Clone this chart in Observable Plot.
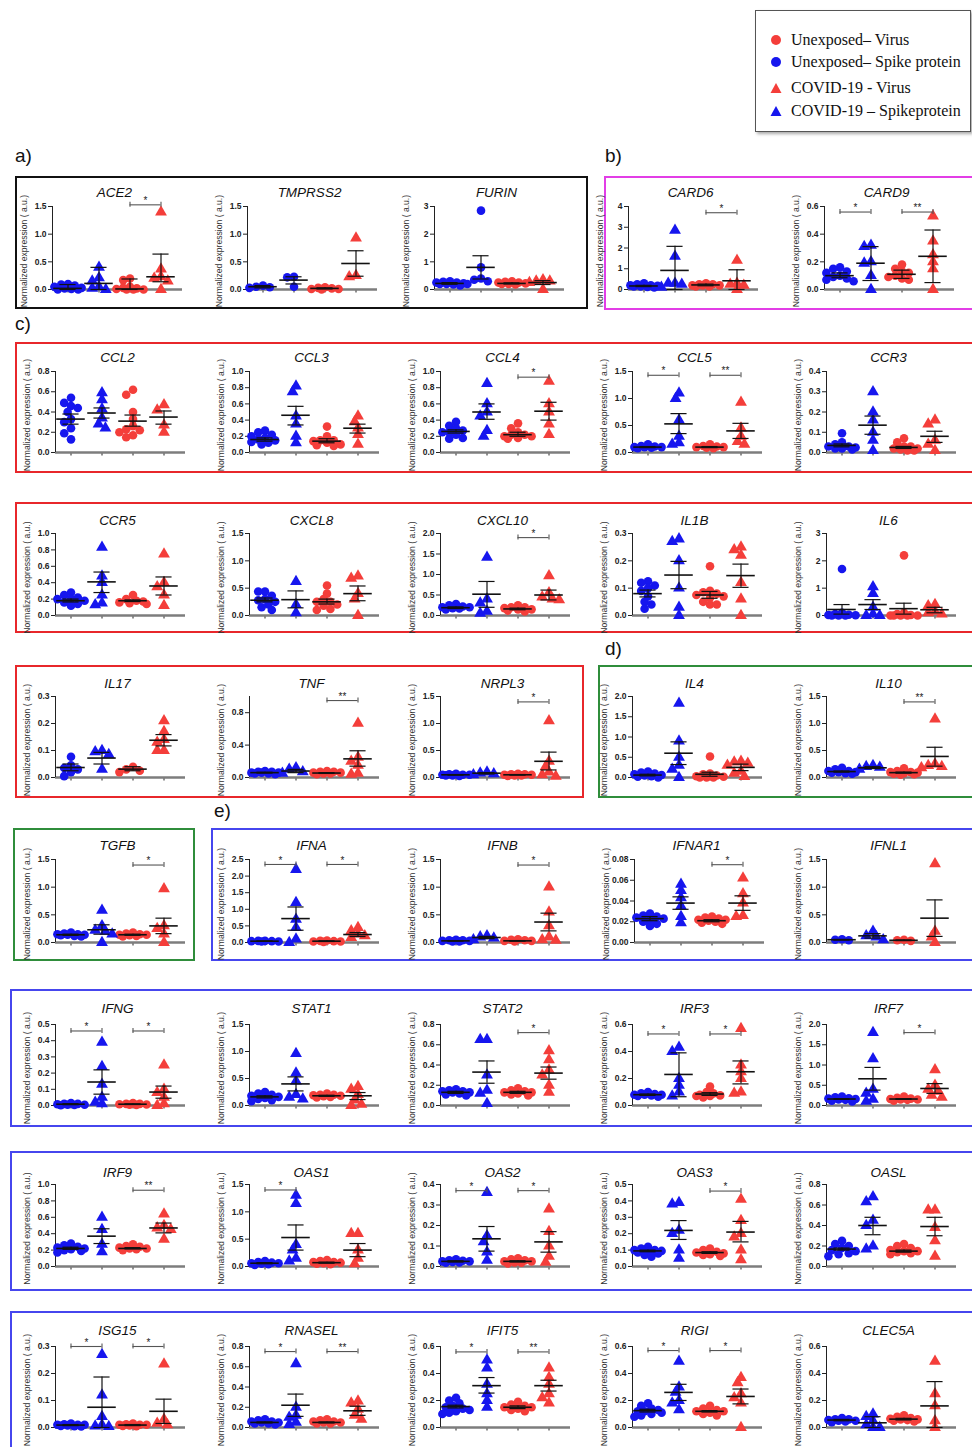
<!DOCTYPE html>
<html><head><meta charset="utf-8">
<script src="https://cdn.jsdelivr.net/npm/d3@7"></script>
<script src="https://cdn.jsdelivr.net/npm/@observablehq/plot@0.6"></script>
<style>
body{margin:0;background:#fff;}
#page{position:relative;width:972px;height:1447px;overflow:hidden;background:#fff;font-family:"Liberation Sans",Arial,sans-serif;}
.box{position:absolute;box-sizing:border-box;border:2px solid;}
.lab{position:absolute;font-size:19px;font-family:"Liberation Sans",Arial,sans-serif;color:#111;}
.panel{position:absolute;}
.panel svg{overflow:visible;}
#legend{position:absolute;left:755px;top:10px;width:216px;height:122px;box-sizing:border-box;border:1.5px solid #555;box-shadow:2px 2px 3px #aaa;background:#fff;font-family:"Liberation Serif","Times New Roman",serif;font-size:16px;color:#111;}
#legend .it{position:absolute;left:14px;display:flex;align-items:center;white-space:nowrap;}
#legend svg{margin-right:9px;}
</style></head><body><div id="page"></div>
<script>
// ---------------- data ----------------
const groupNames = ["Unexposed– Spike protein", "COVID-19 – Spikeprotein", "Unexposed– Virus", "COVID-19 - Virus"];
const groupColors = ["#1616ee", "#1616ee", "#f43e3a", "#f43e3a"];
const groupShapes = ["circle", "triangle", "circle", "triangle"];
const yLabel = "Normalized expression ( a.u.)";

const ACE2 = {yMax:1.5, yStep:0.5,
  v:[[0.1,0.09,0.07,0.05,0.03,0.02,0.01,0.0,0.0],[0.4,0.21,0.15,0.05,0.02,0.0],[0.2,0.17,0.05,0.03,0.02,0.01,0,0,0],[1.4,0.37,0.23,0.2,0.15,0.0]],
  mid:[0.02,0.11,0.01,0.23], lo:[0,0,0,0.14], hi:[0.09,0.40,0.19,0.64], sig:[[3,4,"*",1.53]]};
const TMPRSS2 = {yMax:1.5, yStep:0.5, shapes:["circle","circle","circle","triangle"],
  v:[[0.07,0.05,0.04,0.03],[0.23,0.22,0.05],[0.04,0.03,0.02,0.01,0.01,0.0],[0.93,0.25,0.23]],
  mid:[0.05,0.17,0.02,0.47], lo:[0.03,0.10,0.01,0.24], hi:[0.07,0.23,0.03,0.70], sig:[]};
const FURIN = {yMax:3, yStep:1, shapes:["circle","circle","circle","triangle"],
  v:[[0.3,0.28,0.25,0.25,0.22,0.2,0.2,0.18,0.15],[2.85,0.8,0.4,0.35,0.3,0.2],[0.3,0.28,0.25,0.25,0.22,0.2,0.2,0.18],[0.35,0.3,0.3,0.25,0.0]],
  mid:[0.22,0.8,0.22,0.25], lo:[0.19,0.38,0.2,0.18], hi:[0.25,1.22,0.24,0.32], sig:[]};
const CARD6 = {yMax:4, yStep:1,
  v:[[0.3,0.25,0.2,0.2,0.18,0.15,0.15,0.12,0.1],[2.85,1.6,0.3,0.3,0.25,0.1],[0.3,0.25,0.25,0.2,0.2,0.2,0.15,0.15],[1.4,0.3,0.25,0.2,0.0]],
  mid:[0.17,0.92,0.22,0.42], lo:[0.14,0,0.18,0], hi:[0.2,2.08,0.26,0.95], sig:[[3,4,"*",3.7]]};
const CARD9 = {yMax:0.6, yStep:0.2,
  v:[[0.16,0.15,0.13,0.12,0.1,0.09,0.08,0.07,0.06],[0.32,0.31,0.2,0.19,0.1,0.0],[0.18,0.15,0.13,0.12,0.1,0.09,0.08,0.07],[0.53,0.35,0.25,0.2,0.15,0.0]],
  mid:[0.1,0.19,0.11,0.24], lo:[0.085,0.065,0.08,0.05], hi:[0.12,0.31,0.14,0.43], sig:[[1,2,"*",0.56],[3,4,"**",0.56]]};

const CCL2 = {yMax:0.8, yStep:0.2,
  v:[[0.54,0.49,0.46,0.44,0.40,0.33,0.3,0.24,0.19,0.13],[0.59,0.52,0.43,0.34,0.28,0.24],[0.62,0.57,0.4,0.33,0.26,0.23,0.22,0.2,0.17,0.15],[0.47,0.42,0.27,0.2]],
  mid:[0.33,0.39,0.31,0.35], lo:[0.28,0.34,0.26,0.28], hi:[0.38,0.44,0.37,0.41], sig:[]};
const CCL3 = {yMax:1.0, yStep:0.2,
  v:[[0.27,0.25,0.22,0.2,0.18,0.16,0.15,0.13,0.12,0.1],[0.82,0.75,0.45,0.35,0.2,0.12],[0.32,0.2,0.15,0.15,0.14,0.12,0.1,0.09,0.08],[0.45,0.38,0.3,0.22,0.1]],
  mid:[0.16,0.46,0.14,0.3], lo:[0.14,0.34,0.12,0.24], hi:[0.18,0.57,0.17,0.35], sig:[]};
const CCL4 = {yMax:1.0, yStep:0.2,
  v:[[0.38,0.33,0.3,0.27,0.25,0.25,0.22,0.18,0.17],[0.85,0.6,0.5,0.45,0.27,0.2],[0.36,0.3,0.25,0.22,0.22,0.2,0.2,0.18,0.17],[0.88,0.6,0.5,0.35,0.22]],
  mid:[0.26,0.5,0.22,0.51], lo:[0.24,0.41,0.2,0.4], hi:[0.28,0.6,0.25,0.62], sig:[[3,4,"*",0.93]]};
const CCL5 = {yMax:1.5, yStep:0.5,
  v:[[0.15,0.12,0.11,0.1,0.1,0.1,0.09,0.08],[1.1,1.0,0.6,0.3,0.18,0.15],[0.15,0.12,0.11,0.1,0.1,0.09,0.08],[0.93,0.45,0.3,0.2,0.15]],
  mid:[0.1,0.53,0.1,0.4], lo:[0.09,0.35,0.09,0.26], hi:[0.11,0.72,0.11,0.54], sig:[[1,2,"*",1.43],[3,4,"**",1.43]]};
const CCR3 = {yMax:0.4, yStep:0.1,
  v:[[0.095,0.05,0.04,0.03,0.03,0.025,0.02,0.02,0.015],[0.3,0.2,0.16,0.1,0.06,0.01],[0.07,0.05,0.03,0.03,0.02,0.02,0.015,0.01,0.01],[0.16,0.14,0.06,0.04,0.01]],
  mid:[0.035,0.135,0.025,0.08], lo:[0.028,0.09,0.02,0.05], hi:[0.042,0.18,0.03,0.105], sig:[]};

const CCR5 = {yMax:1.0, yStep:0.2,
  v:[[0.28,0.25,0.22,0.2,0.2,0.18,0.16,0.14,0.12],[0.83,0.48,0.4,0.25,0.15,0.13],[0.25,0.2,0.18,0.17,0.16,0.15,0.14],[0.75,0.4,0.35,0.25,0.12]],
  mid:[0.18,0.41,0.18,0.36], lo:[0.165,0.28,0.17,0.25], hi:[0.2,0.53,0.19,0.47], sig:[]};
const CXCL8 = {yMax:1.5, yStep:0.5,
  v:[[0.44,0.44,0.36,0.3,0.28,0.25,0.2,0.15,0.1],[0.62,0.2,0.05],[0.55,0.4,0.3,0.25,0.25,0.2,0.18,0.12,0.1],[0.72,0.68,0.4,0.3,0.0]],
  mid:[0.28,0.29,0.25,0.4], lo:[0.25,0.14,0.21,0.27], hi:[0.32,0.45,0.3,0.54], sig:[]};
const CXCL10 = {yMax:2.0, yStep:0.5,
  v:[[0.28,0.25,0.22,0.2,0.2,0.18,0.17,0.15],[1.42,0.4,0.3,0.1,0.05],[0.25,0.2,0.2,0.18,0.15,0.15,0.12,0.1],[0.97,0.55,0.45,0.4,0.38]],
  mid:[0.19,0.52,0.16,0.5], lo:[0.17,0.2,0.14,0.38], hi:[0.21,0.83,0.18,0.62], sig:[[3,4,"*",1.9]]};
const IL1B = {yMax:0.3, yStep:0.1,
  v:[[0.125,0.12,0.11,0.1,0.09,0.07,0.05,0.04,0.025],[0.28,0.27,0.2,0.1,0.03,0.0],[0.18,0.09,0.085,0.08,0.075,0.07,0.065,0.05,0.04,0.04],[0.25,0.24,0.22,0.12,0.06,0.0]],
  mid:[0.08,0.148,0.075,0.146], lo:[0.068,0.098,0.063,0.103], hi:[0.093,0.198,0.088,0.188], sig:[]};
const IL6 = {yMax:3, yStep:1,
  v:[[1.7,0.1,0.05,0.03,0.02,0.01,0.0,0.0,0.0],[1.05,0.8,0.3,0.05,0.0,0.0],[2.2,0.1,0.05,0.02,0.0,0.0,0.0,0.0,0.0],[0.4,0.35,0.15,0.1,0.05]],
  mid:[0.22,0.4,0.25,0.21], lo:[0.05,0.22,0.05,0.1], hi:[0.4,0.58,0.45,0.3], sig:[]};

const IL17 = {yMax:0.3, yStep:0.1,
  v:[[0.077,0.045,0.035,0.03,0.02,0.005],[0.1,0.095,0.085,0.03],[0.04,0.03,0.025,0.02],[0.21,0.17,0.14,0.13,0.1,0.1]],
  mid:[0.037,0.072,0.031,0.138], lo:[0.025,0.05,0.025,0.117], hi:[0.05,0.093,0.04,0.159], sig:[]};
const TNF = {yMax:1.0, yStep:0.4,
  v:[[0.08,0.07,0.07,0.06,0.06,0.06,0.05,0.05,0.04],[0.12,0.1,0.07,0.05],[0.08,0.07,0.07,0.06,0.06,0.05,0.05,0.04],[0.67,0.25,0.2,0.15,0.05,0.04]],
  mid:[0.06,0.08,0.055,0.23], lo:[0.055,0.06,0.05,0.14], hi:[0.065,0.1,0.06,0.33], sig:[[3,4,"**",0.95]]};
const NRPL3 = {yMax:1.5, yStep:0.5,
  v:[[0.07,0.06,0.05,0.05,0.05,0.04,0.04,0.03],[0.1,0.08,0.07,0.05],[0.07,0.06,0.06,0.05,0.05,0.04,0.04,0.03],[1.05,0.3,0.2,0.1,0.05,0.02]],
  mid:[0.05,0.08,0.05,0.3], lo:[0.045,0.065,0.045,0.14], hi:[0.055,0.09,0.055,0.47], sig:[[3,4,"*",1.4]]};
const IL4 = {yMax:2.0, yStep:0.5,
  v:[[0.15,0.12,0.1,0.08,0.06,0.05,0.03,0.02,0.0],[1.83,0.9,0.5,0.3,0.2,0.0],[0.52,0.1,0.08,0.05,0.03,0.02,0.0,0.0,0.0],[0.4,0.38,0.35,0.3,0.15,0.1,0.02]],
  mid:[0.06,0.6,0.08,0.25], lo:[0.04,0.32,0.03,0.17], hi:[0.08,0.88,0.13,0.33], sig:[]};
const IL10 = {yMax:1.5, yStep:0.5,
  v:[[0.18,0.15,0.12,0.12,0.1,0.1,0.09,0.08,0.07],[0.22,0.2,0.19,0.15],[0.17,0.12,0.1,0.1,0.09,0.08,0.07,0.06,0.05],[1.08,0.25,0.22,0.2,0.18]],
  mid:[0.11,0.18,0.09,0.39], lo:[0.1,0.165,0.08,0.21], hi:[0.12,0.2,0.1,0.56], sig:[[3,4,"**",1.4]]};

const TGFB = {yMax:1.5, yStep:0.5,
  v:[[0.18,0.16,0.15,0.15,0.14,0.14,0.13,0.12,0.11],[0.58,0.3,0.22,0.2,0.15,0.0],[0.18,0.16,0.15,0.14,0.14,0.13,0.12,0.11],[0.97,0.3,0.25,0.15,0.0]],
  mid:[0.14,0.23,0.14,0.3], lo:[0.13,0.15,0.13,0.16], hi:[0.15,0.32,0.15,0.44], sig:[[3,4,"*",1.4]]};
const IFNA = {yMax:2.5, yStep:0.5,
  v:[[0.05,0.05,0.04,0.04,0.03,0.03],[2.2,1.2,0.7,0.45,0.1,0.0],[0.06,0.05,0.04,0.03,0.03,0.02],[0.45,0.35,0.25,0.2,0.15]],
  mid:[0.04,0.72,0.04,0.24], lo:[0.035,0.37,0.03,0.18], hi:[0.045,1.07,0.05,0.3], sig:[[1,2,"*",2.35],[3,4,"*",2.35]]};
const IFNB = {yMax:1.5, yStep:0.5,
  v:[[0.05,0.04,0.04,0.03,0.03,0.02,0.02],[0.12,0.1,0.08,0.05],[0.06,0.05,0.04,0.03,0.03,0.02],[1.0,0.55,0.3,0.1,0.05,0.04]],
  mid:[0.03,0.09,0.03,0.37], lo:[0.025,0.07,0.025,0.21], hi:[0.035,0.11,0.035,0.53], sig:[[3,4,"*",1.4]]};
const IFNAR1 = {yMax:0.08, yStep:0.02,
  v:[[0.028,0.026,0.025,0.024,0.023,0.022,0.02,0.018,0.016],[0.056,0.05,0.043,0.035,0.025,0.019],[0.025,0.024,0.023,0.022,0.022,0.021,0.02,0.019,0.018],[0.062,0.047,0.038,0.026,0.025]],
  mid:[0.023,0.038,0.021,0.038], lo:[0.021,0.032,0.02,0.031], hi:[0.025,0.044,0.022,0.045], sig:[[3,4,"*",0.075]]};
const IFNL1 = {yMax:1.5, yStep:0.5,
  v:[[0.06,0.05,0.04],[0.2,0.12,0.1,0.05],[0.05,0.04,0.03],[1.42,0.2,0.1,0.0]],
  mid:[0.05,0.12,0.04,0.44], lo:[0.045,0.08,0.035,0.11], hi:[0.055,0.16,0.045,0.77], sig:[]};

const IFNG = {yMax:0.5, yStep:0.1,
  v:[[0.015,0.01,0.01,0.008,0.005,0.005,0.003,0.002],[0.39,0.24,0.13,0.05,0.02,0.01],[0.015,0.01,0.01,0.008,0.006,0.005,0.004],[0.25,0.1,0.08,0.05,0.01,0.0]],
  mid:[0.008,0.145,0.008,0.083], lo:[0.005,0.07,0.006,0.045], hi:[0.011,0.22,0.01,0.12], sig:[[1,2,"*",0.46],[3,4,"*",0.46]]};
const STAT1 = {yMax:1.5, yStep:0.5,
  v:[[0.25,0.22,0.2,0.18,0.16,0.14,0.12,0.1,0.08],[0.96,0.6,0.45,0.2,0.15,0.12],[0.22,0.2,0.2,0.19,0.18,0.17,0.16,0.15],[0.35,0.3,0.2,0.1,0.02,0.0]],
  mid:[0.16,0.4,0.18,0.18], lo:[0.14,0.27,0.17,0.11], hi:[0.18,0.53,0.19,0.24], sig:[]};
const STAT2 = {yMax:0.8, yStep:0.2,
  v:[[0.16,0.15,0.14,0.14,0.13,0.13,0.12,0.11,0.1],[0.65,0.65,0.3,0.15,0.12,0.02],[0.17,0.15,0.14,0.13,0.13,0.12,0.11,0.1],[0.54,0.45,0.35,0.3,0.2,0.13]],
  mid:[0.13,0.33,0.13,0.32], lo:[0.12,0.22,0.12,0.26], hi:[0.14,0.44,0.14,0.38], sig:[[3,4,"*",0.72]]};
const IRF3 = {yMax:0.6, yStep:0.2,
  v:[[0.1,0.09,0.085,0.08,0.08,0.08,0.075,0.07,0.065],[0.43,0.4,0.2,0.15,0.1,0.07],[0.14,0.1,0.09,0.08,0.075,0.07,0.07,0.06],[0.57,0.3,0.25,0.2,0.1,0.09]],
  mid:[0.08,0.23,0.085,0.25], lo:[0.075,0.065,0.075,0.16], hi:[0.085,0.39,0.095,0.33], sig:[[1,2,"*",0.53],[3,4,"*",0.53]]};
const IRF7 = {yMax:2.0, yStep:0.5,
  v:[[0.22,0.2,0.18,0.17,0.16,0.15,0.14,0.12,0.1],[1.8,1.15,0.4,0.3,0.15,0.1],[0.22,0.19,0.17,0.16,0.15,0.15,0.14,0.12],[0.88,0.5,0.4,0.35,0.25,0.2]],
  mid:[0.16,0.66,0.16,0.42], lo:[0.15,0.38,0.15,0.3], hi:[0.17,0.94,0.17,0.54], sig:[[3,4,"*",1.8]]};

const IRF9 = {yMax:1.0, yStep:0.2,
  v:[[0.28,0.26,0.24,0.23,0.22,0.21,0.2,0.19,0.17],[0.6,0.45,0.27,0.18],[0.27,0.25,0.24,0.23,0.22,0.22,0.21,0.2],[0.64,0.5,0.47,0.45,0.33]],
  mid:[0.22,0.37,0.22,0.47], lo:[0.21,0.28,0.215,0.41], hi:[0.235,0.46,0.23,0.53], sig:[[3,4,"**",0.93]]};
const OAS1 = {yMax:1.5, yStep:0.5,
  v:[[0.1,0.08,0.07,0.06,0.06,0.05,0.04,0.03],[1.3,1.15,0.4,0.3,0.15,0.1],[0.12,0.1,0.08,0.08,0.07,0.06,0.05,0.04],[0.6,0.6,0.3,0.15,0.05]],
  mid:[0.06,0.53,0.07,0.3], lo:[0.05,0.3,0.06,0.18], hi:[0.07,0.76,0.08,0.42], sig:[[1,2,"*",1.4]]};
const OAS2 = {yMax:0.4, yStep:0.1,
  v:[[0.035,0.03,0.028,0.025,0.025,0.022,0.02,0.018],[0.36,0.15,0.12,0.07,0.03],[0.04,0.035,0.03,0.025,0.025,0.02,0.018,0.015],[0.28,0.17,0.1,0.05,0.02]],
  mid:[0.025,0.135,0.025,0.12], lo:[0.022,0.075,0.022,0.07], hi:[0.028,0.195,0.028,0.17], sig:[[1,2,"*",0.37],[3,4,"*",0.37]]};
const OAS3 = {yMax:0.5, yStep:0.1,
  v:[[0.12,0.11,0.1,0.1,0.095,0.09,0.085,0.08,0.07,0.06],[0.39,0.38,0.22,0.2,0.1,0.05],[0.11,0.1,0.09,0.085,0.08,0.075,0.07,0.065],[0.41,0.28,0.2,0.18,0.1,0.04]],
  mid:[0.095,0.22,0.085,0.21], lo:[0.09,0.165,0.08,0.15], hi:[0.1,0.28,0.09,0.275], sig:[[3,4,"*",0.46]]};
const OASL = {yMax:0.8, yStep:0.2,
  v:[[0.25,0.22,0.2,0.18,0.16,0.15,0.13,0.12,0.1],[0.68,0.63,0.45,0.4,0.2,0.17],[0.22,0.2,0.18,0.16,0.15,0.15,0.14,0.13,0.12],[0.55,0.55,0.38,0.25,0.1]],
  mid:[0.17,0.4,0.15,0.39], lo:[0.16,0.31,0.14,0.3], hi:[0.18,0.48,0.16,0.48], sig:[]};

const ISG15 = {yMax:0.3, yStep:0.1,
  v:[[0.015,0.012,0.01,0.01,0.01,0.008,0.006,0.005,0.004],[0.27,0.12,0.04,0.01,0.005,0.003],[0.015,0.012,0.01,0.01,0.01,0.008,0.006,0.005],[0.235,0.03,0.015,0.01]],
  mid:[0.009,0.075,0.009,0.06], lo:[0.007,0,0.007,0.015], hi:[0.011,0.187,0.011,0.105], sig:[[1,2,"*",0.3],[3,4,"*",0.3]]};
const RNASEL = {yMax:0.8, yStep:0.2,
  v:[[0.08,0.07,0.06,0.06,0.05,0.05,0.04,0.04,0.03],[0.63,0.2,0.12,0.1,0.05,0.03],[0.08,0.07,0.06,0.06,0.05,0.05,0.04,0.04],[0.26,0.24,0.18,0.12,0.08]],
  mid:[0.05,0.22,0.05,0.165], lo:[0.045,0.11,0.045,0.12], hi:[0.055,0.33,0.055,0.21], sig:[[1,2,"*",0.75],[3,4,"**",0.75]]};
const IFIT5 = {yMax:0.6, yStep:0.2,
  v:[[0.22,0.2,0.18,0.16,0.15,0.14,0.13,0.12,0.11,0.1],[0.5,0.44,0.32,0.25,0.2,0.15],[0.19,0.17,0.16,0.15,0.15,0.14,0.13,0.12],[0.44,0.37,0.32,0.25,0.22,0.18]],
  mid:[0.155,0.31,0.15,0.31], lo:[0.145,0.255,0.14,0.27], hi:[0.165,0.37,0.16,0.35], sig:[[1,2,"*",0.56],[3,4,"**",0.56]]};
const RIGI = {yMax:0.6, yStep:0.2,
  v:[[0.18,0.16,0.14,0.13,0.12,0.12,0.11,0.1,0.09,0.08],[0.49,0.3,0.26,0.2,0.18,0.13],[0.16,0.14,0.13,0.12,0.12,0.11,0.1,0.09],[0.37,0.33,0.25,0.22,0.18,0.0]],
  mid:[0.125,0.26,0.12,0.23], lo:[0.115,0.2,0.115,0.175], hi:[0.135,0.32,0.125,0.285], sig:[[1,2,"*",0.57],[3,4,"*",0.57]]};
const CLEC5A = {yMax:0.6, yStep:0.2,
  v:[[0.07,0.06,0.06,0.055,0.05,0.05,0.045,0.04],[0.1,0.08,0.05,0.02,0.0,0.0],[0.09,0.08,0.07,0.065,0.06,0.06,0.055,0.05,0.045],[0.49,0.25,0.16,0.05,0.0]],
  mid:[0.055,0.035,0.062,0.16], lo:[0.05,0,0.056,0], hi:[0.06,0.08,0.068,0.34], sig:[]};

// ---------------- layout ----------------
const rows = {
  a:  {titleY:192, yTop:206, y0:289},
  c1: {titleY:357, yTop:371, y0:452},
  c2: {titleY:520, yTop:533, y0:615},
  c3: {titleY:683, yTop:696, y0:777},
  e:  {titleY:845, yTop:859, y0:942},
  r5: {titleY:1008, yTop:1024, y0:1105},
  r6: {titleY:1172, yTop:1184, y0:1266},
  r7: {titleY:1330, yTop:1346, y0:1427}
};
const panels = [
  ["ACE2", ACE2, 52, "a"], ["TMPRSS2", TMPRSS2, 247, "a"], ["FURIN", FURIN, 434, "a"], ["CARD6", CARD6, 628, "a"], ["CARD9", CARD9, 824, "a"],
  ["CCL2", CCL2, 55, "c1"], ["CCL3", CCL3, 249, "c1"], ["CCL4", CCL4, 440, "c1"], ["CCL5", CCL5, 632, "c1"], ["CCR3", CCR3, 826, "c1"],
  ["CCR5", CCR5, 55, "c2"], ["CXCL8", CXCL8, 249, "c2"], ["CXCL10", CXCL10, 440, "c2"], ["IL1B", IL1B, 632, "c2"], ["IL6", IL6, 826, "c2"],
  ["IL17", IL17, 55, "c3"], ["TNF", TNF, 249, "c3"], ["NRPL3", NRPL3, 440, "c3"], ["IL4", IL4, 632, "c3"], ["IL10", IL10, 826, "c3"],
  ["TGFB", TGFB, 55, "e"], ["IFNA", IFNA, 249, "e"], ["IFNB", IFNB, 440, "e"], ["IFNAR1", IFNAR1, 634, "e"], ["IFNL1", IFNL1, 826, "e"],
  ["IFNG", IFNG, 55, "r5"], ["STAT1", STAT1, 249, "r5"], ["STAT2", STAT2, 440, "r5"], ["IRF3", IRF3, 632, "r5"], ["IRF7", IRF7, 826, "r5"],
  ["IRF9", IRF9, 55, "r6"], ["OAS1", OAS1, 249, "r6"], ["OAS2", OAS2, 440, "r6"], ["OAS3", OAS3, 632, "r6"], ["OASL", OASL, 826, "r6"],
  ["ISG15", ISG15, 55, "r7"], ["RNASEL", RNASEL, 249, "r7"], ["IFIT5", IFIT5, 440, "r7"], ["RIGI", RIGI, 632, "r7"], ["CLEC5A", CLEC5A, 826, "r7"]
];
const boxes = [
  [15,176,573,133,"#111"], [604,176,380,134,"#e23ee6"],
  [15,342,970,131,"#e8272b"], [15,502,970,131,"#e8272b"], [15,665,569,133,"#e8272b"],
  [598,665,390,133,"#2f8d3b"], [13,828,182,133,"#2f8d3b"], [211,828,775,133,"#4646ee"],
  [10,989,980,138,"#4646ee"], [10,1151,980,140,"#4646ee"], [10,1311,980,150,"#4646ee"]
];
const sectionLabels = [["a)",15,145],["b)",605,145],["c)",15,313],["d)",605,638],["e)",214,800]];

// ---------------- drawing ----------------
const page = document.getElementById("page");
for (const [x,y,w,h,c] of boxes) {
  const d = document.createElement("div"); d.className = "box";
  Object.assign(d.style, {left:x+"px", top:y+"px", width:w+"px", height:h+"px", borderColor:c});
  page.appendChild(d);
}
for (const [t,x,y] of sectionLabels) {
  const d = document.createElement("div"); d.className = "lab"; d.textContent = t;
  Object.assign(d.style, {left:x+"px", top:y+"px"}); page.appendChild(d);
}

const ML = 45, MR = 10, W = 185, PXU = 31;
const xMax = 0.5 + (W - ML - MR) / PXU;

function swarm(vals, pxPerVal) {
  const placed = [], out = new Array(vals.length);
  const cands = [0,-1,1,-2,2,-3,3,-4,4], step = 3.4, dmin = 6.2;
  vals.forEach((v, i) => {
    const py = v * pxPerVal;
    let best = 0, bestScore = -1;
    for (const c of cands) {
      const px = c * step;
      let md = Infinity;
      for (const p of placed) md = Math.min(md, Math.hypot(px - p[0], py - p[1]));
      if (md >= dmin) { best = px; break; }
      if (md > bestScore) { bestScore = md; best = px; }
    }
    placed.push([best, py]); out[i] = best;
  });
  return out;
}

for (const [name, g, ax, rk] of panels) {
  const row = rows[rk];
  const top = row.titleY - 16;
  const mt = row.yTop - top, ih = row.y0 - row.yTop, mb = 12;
  const pxPerVal = ih / g.yMax;
  const shapes = g.shapes || groupShapes;
  const pts = [];
  g.v.forEach((vals, k) => {
    const offs = swarm(vals, pxPerVal);
    vals.forEach((v, i) => pts.push({g: k + 1, x: k + 1 + offs[i] / PXU, v, shape: shapes[k], color: groupColors[k]}));
  });
  const stats = g.mid.map((m, k) => ({g: k + 1, mid: m, lo: Math.max(0, g.lo[k]), hi: g.hi[k]}));
  const caps = stats.flatMap(s => [{g: s.g, y: s.lo}, {g: s.g, y: s.hi}]);
  const nT = Math.floor(g.yMax / g.yStep + 1e-9) + 1;
  const ticks = Array.from({length: nT}, (_, i) => +(i * g.yStep).toFixed(4));
  const dec = g.yStep >= 1 ? 0 : (g.yStep >= 0.1 ? 1 : 2);
  const fmt = d3.format(`.${dec}f`);
  const sig = g.sig.map(([a, b, t, lev]) => ({a, b, t, lev}));

  const chart = Plot.plot({
    width: W, height: mt + ih + mb,
    marginLeft: ML, marginRight: MR, marginTop: mt, marginBottom: mb,
    style: {fontSize: "8.5px", fontFamily: "'Liberation Sans', Arial, sans-serif", fontWeight: "bold", color: "#222", background: "transparent", overflow: "visible"},
    x: {domain: [0.5, xMax], ticks: [1, 2, 3, 4], tickFormat: () => "", tickSize: 3.5, label: null},
    y: {domain: [0, g.yMax], ticks, tickFormat: fmt, tickSize: 4, tickPadding: 2, label: null},
    marks: [
      Plot.ruleY([0], {stroke: "#7d7d7d", strokeWidth: 2.4}),
      Plot.ruleX([0.5], {y1: () => 0, y2: () => g.yMax, stroke: "#222", strokeWidth: 1}),
      Plot.dot(pts.filter(d => d.shape === "circle"), {x: "x", y: "v", fill: "color", r: 4.3, symbol: "circle"}),
      Plot.dot(pts.filter(d => d.shape === "triangle"), {x: "x", y: "v", fill: "color", r: 4.4, symbol: "triangle"}),
      Plot.ruleX(stats, {x: "g", y1: "lo", y2: "hi", stroke: "#111", strokeWidth: 1.2}),
      Plot.ruleY(caps, {x1: d => d.g - 0.26, x2: d => d.g + 0.26, y: "y", stroke: "#111", strokeWidth: 1.2}),
      Plot.ruleY(stats, {x1: d => d.g - 0.46, x2: d => d.g + 0.46, y: "mid", stroke: "#111", strokeWidth: 1.6}),
      Plot.ruleY(sig, {x1: "a", x2: "b", y: "lev", stroke: "#555", strokeWidth: 1.1}),
      Plot.ruleX(sig.flatMap(s => [{x: s.a, lev: s.lev}, {x: s.b, lev: s.lev}]), {x: "x", y1: "lev", y2: "lev", insetTop: -2.5, insetBottom: -2.5, stroke: "#555", strokeWidth: 1.1}),
      Plot.text(sig, {x: d => (d.a + d.b) / 2, y: "lev", text: "t", dy: -4, fontSize: 10, fontWeight: "normal", fill: "#222"}),
      Plot.text([name], {x: () => 2.5, y: () => g.yMax, dy: row.titleY - row.yTop, text: d => d, fontSize: 13.5, fontStyle: "italic", fontWeight: "normal", fill: "#111"}),
      Plot.text([yLabel], {frameAnchor: "left", textAnchor: "middle", rotate: -90, dx: -28, dy: 3, text: d => d, fontSize: 8.6, fontWeight: "normal", fill: "#333"})
    ]
  });
  const wrap = document.createElement("div"); wrap.className = "panel";
  Object.assign(wrap.style, {left: (ax - ML) + "px", top: top + "px"});
  wrap.appendChild(chart);
  page.appendChild(wrap);
}

// ---------------- legend ----------------
const legendItems = [
  {label: "Unexposed– Virus", color: groupColors[2], shape: "circle", y: 30},
  {label: "Unexposed– Spike protein", color: groupColors[0], shape: "circle", y: 52},
  {label: "COVID-19 - Virus", color: groupColors[3], shape: "triangle", y: 78},
  {label: "COVID-19 – Spikeprotein", color: groupColors[1], shape: "triangle", y: 101}
];
const leg = document.createElement("div"); leg.id = "legend";
for (const it of legendItems) {
  const d = document.createElement("div"); d.className = "it"; d.style.top = (it.y - 10) + "px";
  const mk = it.shape === "circle"
    ? `<svg width="12" height="12"><circle cx="6" cy="6" r="5" fill="${it.color}"/></svg>`
    : `<svg width="12" height="12"><path d="M6,1L11.5,11H0.5Z" fill="${it.color}"/></svg>`;
  d.innerHTML = mk + `<span>${it.label}</span>`;
  leg.appendChild(d);
}
page.appendChild(leg);
</script></body></html>
